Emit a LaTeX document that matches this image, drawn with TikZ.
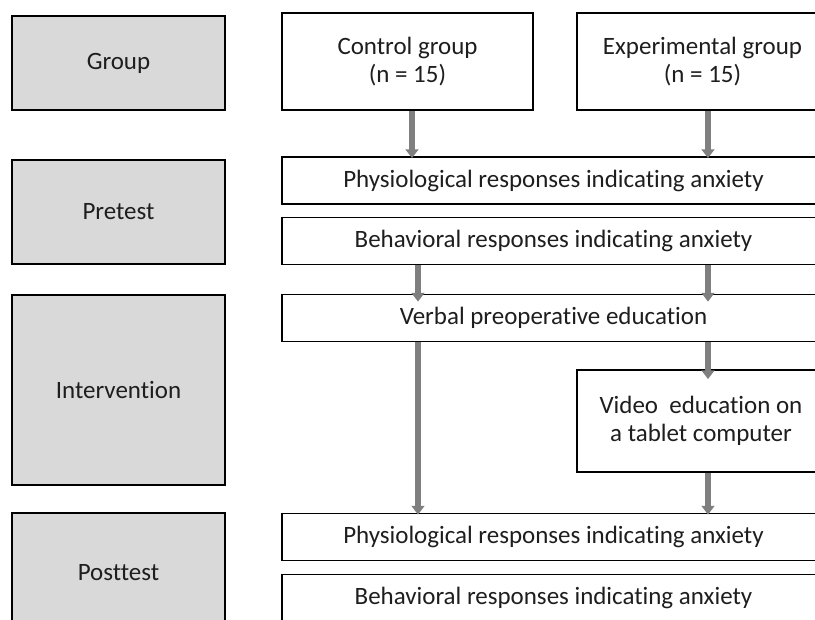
\documentclass[tikz,border=0pt]{standalone}
\usepackage{fontspec}
\setmainfont{Carlito}[Ligatures=NoCommon]
\usetikzlibrary{arrows.meta,positioning,calc}
\definecolor{stagegray}{HTML}{D9D9D9}
\definecolor{arrowgray}{HTML}{7F7F7F}
\definecolor{inkgray}{HTML}{1E1E1E}
\tikzset{
  stagebox/.style={
    draw=black,
    fill=stagegray,
    line width=1.3pt,
    minimum width=5.325cm,
    align=center,
    text=inkgray,
    font=\fontsize{17.75}{20}\selectfont
  },
  flowbox/.style={
    draw=black,
    fill=white,
    line width=1.3pt,
    align=center,
    text=inkgray,
    font=\fontsize{17.75}{20}\selectfont
  },
  groupbox/.style={
    flowbox,
    minimum width=6.275cm,
    minimum height=2.425cm
  },
  widebox/.style={
    flowbox,
    minimum width=13.575cm,
    minimum height=1.175cm
  },
  arrow/.style={
    -{Triangle[length=2.2mm,width=3.2mm]},
    line width=4.3pt,
    draw=arrowgray
  }
}

\begin{document}
\begin{tikzpicture}[x=0.025cm,y=-0.025cm]
\clip (0,0) rectangle (815,619);
\fill[white] (0,0) rectangle (815,619);
% stages on the left
\node[stagebox, minimum height=2.35cm] (group) at (118.5,63) {Group};
\node[stagebox, minimum height=2.6cm] (pre) at (118.5,212) {Pretest};
\node[stagebox, minimum height=4.75cm] (interv) at (118.5,390) {Intervention};
\node[stagebox, minimum height=3cm] (post) at (118.5,573) {Posttest};
% groups
\node[groupbox] (ctrl) at (407.5,61.5) {Control group\\(n = 15)};
\node[groupbox] (exp) at (702.5,61.5) {Experimental group\\(n = 15)};
% pretest
\node[widebox] (phys1) at (553.5,180.5) {Physiological responses indicating anxiety};
\node[widebox] (behav1) at (553.5,241) {Behavioral responses indicating anxiety};
% intervention
\node[widebox] (verbal) at (553.5,318) {Verbal preoperative education};
\node[flowbox, minimum width=6.2cm, minimum height=2.55cm] (video) at (701,421) {Video~ education on\\a tablet computer};
% posttest
\node[widebox] (phys2) at (553.5,537) {Physiological responses indicating anxiety};
\node[widebox] (behav2) at (553.5,598) {Behavioral responses indicating anxiety};
% arrow columns
\coordinate (colA) at (412,0);
\coordinate (colB) at (708,0);
\coordinate (colC) at (418,0);
\draw[arrow] (ctrl.south -| colA) -- ($(phys1.north -| colA)+(0,2)$);
\draw[arrow] (exp.south -| colB) -- ($(phys1.north -| colB)+(0,2)$);
\draw[arrow] (behav1.south -| colC) -- ($(verbal.north -| colC)+(0,8)$);
\draw[arrow] (behav1.south -| colB) -- ($(verbal.north -| colB)+(0,8)$);
\draw[arrow] (verbal.south -| colC) -- ($(phys2.north -| colC)+(0,2)$);
\draw[arrow] (verbal.south -| colB) -- ($(video.north -| colB)+(0,10)$);
\draw[arrow] (video.south -| colB) -- ($(phys2.north -| colB)+(0,2)$);
\end{tikzpicture}
\end{document}
